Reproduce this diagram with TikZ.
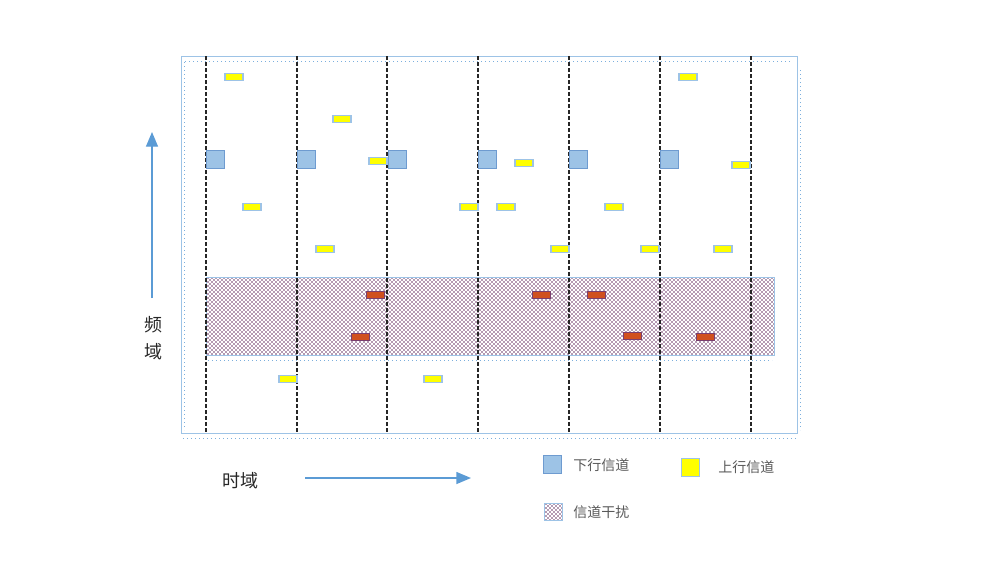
\documentclass[tikz,border=0pt]{standalone}
\usepackage{fontspec}
\newfontfamily\cjk{Noto Sans CJK SC}
\usetikzlibrary{patterns,arrows.meta}
\pgfdeclarepatternformonly{bandsdots}{\pgfqpoint{-1pt}{-1pt}}{\pgfqpoint{4pt}{4pt}}{\pgfqpoint{3pt}{3pt}}{%
  \pgfpathcircle{\pgfqpoint{0pt}{0pt}}{0.6pt}%
  \pgfpathcircle{\pgfqpoint{1.5pt}{1.5pt}}{0.6pt}%
  \pgfusepath{fill}}
\definecolor{frameblue}{HTML}{9DC3E6}
\definecolor{dlfill}{HTML}{9DC3E6}
\definecolor{dlborder}{HTML}{6E9BD0}
\definecolor{ulfill}{HTML}{FFFF00}
\definecolor{ulborder}{HTML}{9DC3E6}
\definecolor{intred}{HTML}{D0501E}
\definecolor{intborder}{HTML}{7A3F6E}
\definecolor{dotpurple}{HTML}{6A3566}
\definecolor{arrowblue}{HTML}{5B9BD5}
\definecolor{textgray}{HTML}{595959}
\tikzset{
  dlbox/.style={draw=dlborder, fill=dlfill, line width=0.6pt, minimum width=18*0.75pt, minimum height=18*0.75pt, inner sep=0pt, anchor=north west},
  ulbox/.style={draw=ulborder, fill=ulfill, line width=1pt, minimum width=18*0.75pt, minimum height=7*0.75pt, inner sep=0pt},
  intbox/.style={draw=intborder, fill=intred, line width=0.6pt, minimum width=18*0.75pt, minimum height=7*0.75pt, inner sep=0pt},
  slotline/.style={black!85, line width=1.1pt, dash pattern=on 3pt off 1.5pt},
  shadowdots/.style={arrowblue!80, line width=0.6pt, dash pattern=on 0.8pt off 2.2pt},
  axisarrow/.style={arrowblue, line width=1pt, -{Triangle[length=11pt,width=9pt]}},
  legtext/.style={textgray, font=\cjk\fontsize{10.5pt}{12pt}\selectfont, anchor=west, inner sep=0pt},
  axtext/.style={black!85, font=\cjk\fontsize{13.5pt}{16pt}\selectfont, inner sep=0pt},
  bandfill/.style={pattern=bandsdots, pattern color=dotpurple},
}
\begin{document}
\begin{tikzpicture}[x=0.75pt,y=-0.75pt]
\useasboundingbox (0,0) rectangle (1000,562);
% frame
\node[draw=frameblue, line width=1pt, minimum width=616*0.75pt, minimum height=377*0.75pt, inner sep=0pt, anchor=north west] (frame) at (181,56) {};
\coordinate (sb1) at (183,438); \coordinate (sb2) at (797,438);
\coordinate (st1) at (185,61); \coordinate (st2) at (790,61);
\coordinate (sr1) at (800,70); \coordinate (sr2) at (800,430);
\coordinate (sl1) at (184,62); \coordinate (sl2) at (184,430);
\draw[shadowdots] (sb1) -- (sb2);
\draw[shadowdots] (st1) -- (st2);
\draw[shadowdots] (sr1) -- (sr2);
\draw[shadowdots] (sl1) -- (sl2);
% interference band
\node[draw=frameblue, line width=1pt, bandfill, minimum width=568*0.75pt, minimum height=78*0.75pt, inner sep=0pt, anchor=north west] (band) at (206,277) {};
\coordinate (bs1) at (208,360); \coordinate (bs2) at (772,360);
\draw[shadowdots] (bs1) -- (bs2);
% time slot lines
\foreach \x [count=\i] in {206,297,387,478,569,660,751}{
  \coordinate (t\i) at (\x,56);
  \coordinate (b\i) at (\x,433);
  \draw[slotline] (t\i) -- (b\i);
}
% downlink
\foreach \x [count=\i] in {206,297,388,478,569,660}{
  \node[dlbox] (dl\i) at (\x,150) {};
}
% uplink
\foreach \x/\y [count=\i] in {234/77, 342/119, 378/161, 252/207, 325/249, 524/163, 469/207, 506/207, 614/207, 560/249, 650/249, 688/77, 741/165, 723/249, 288/379, 433/379}{
  \node[ulbox] (ul\i) at (\x,\y) {};
}
% interference
\foreach \x/\y [count=\i] in {375/295, 541/295, 596/295, 360/337, 632/336, 705/337}{
  \node[intbox] (in\i) at (\x,\y) {};
}
% axes
\coordinate (fa1) at (152,298); \coordinate (fa2) at (152,132);
\draw[axisarrow] (fa1) -- (fa2);
\node[axtext] (f1) at (153,325) {频};
\node[axtext] (f2) at (153,352) {域};
\coordinate (ta1) at (305,478); \coordinate (ta2) at (471,478);
\draw[axisarrow] (ta1) -- (ta2);
\node[axtext] (tlab) at (240,481) {时域};
% legend
\node[dlbox] (lg1) at (543,455) {};
\node[legtext] (lt1) at (573,465) {下行信道};
\node[draw=ulborder, fill=ulfill, line width=0.8pt, minimum width=18*0.75pt, minimum height=18*0.75pt, inner sep=0pt, anchor=north west] (lg2) at (681,458) {};
\node[legtext] (lt2) at (718,467) {上行信道};
\node[draw=frameblue, line width=0.8pt, bandfill, minimum width=18*0.75pt, minimum height=17*0.75pt, inner sep=0pt, anchor=north west] (lg3) at (544,503) {};
\node[legtext] (lt3) at (573,512) {信道干扰};
\end{tikzpicture}
\end{document}
